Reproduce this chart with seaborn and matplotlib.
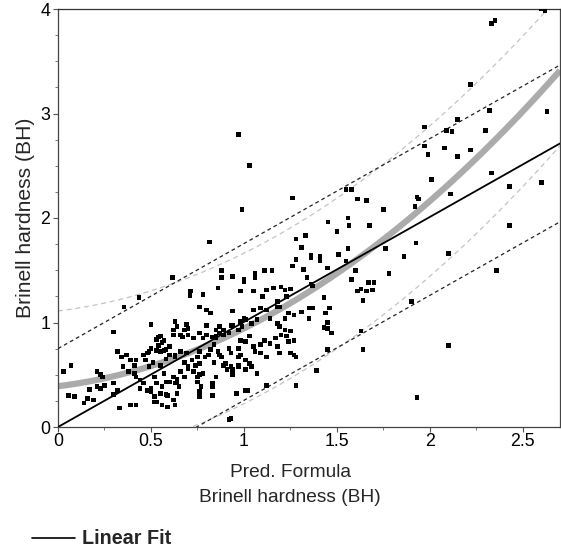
import numpy as np
import pandas as pd
import matplotlib
matplotlib.use("Agg")
import matplotlib.pyplot as plt
from matplotlib.lines import Line2D
import seaborn as sns

# Predicted (formula) vs. measured Brinell hardness, one entry per sample
pred_bh = [
    0.814, 0.615, 0.88, 0.88, 0.435, 0.355, 0.713, 0.71, 0.78, 0.86, 0.94, 1.0, 1.0,
    1.06, 1.06, 1.11, 1.15, 0.98, 1.05, 1.12, 1.10, 1.16, 0.76, 0.80, 0.82, 0.94,
    0.30, 0.50, 0.63, 0.64, 0.62, 0.55, 0.53, 0.57, 0.68, 0.70, 0.66, 0.76, 0.78,
    0.80, 0.85, 0.87, 0.89, 0.94, 0.97, 0.99, 1.01, 1.04, 1.07, 1.05, 1.09, 1.12,
    1.14, 1.18, 1.18, 1.18, 0.50, 0.49, 0.48, 0.54, 0.55, 0.58, 0.60, 0.63, 0.66,
    0.69, 0.72, 0.75, 0.76, 0.79, 0.82, 0.84, 0.86, 0.88, 0.92, 0.93, 0.97, 0.98,
    1.01, 1.03, 1.05, 1.09, 1.11, 1.14, 1.17, 1.18, 1.06, 1.09, 1.12, 0.32, 0.34,
    0.37, 0.39, 0.41, 0.42, 0.46, 0.47, 0.49, 0.35, 0.38, 0.41, 0.42, 0.44, 0.46,
    0.44, 0.48, 0.50, 0.53, 0.56, 0.58, 0.52, 0.55, 0.58, 0.53, 0.56, 0.59, 0.62,
    0.63, 0.62, 0.64, 0.65, 0.66, 0.68, 0.70, 0.73, 0.75, 0.78, 0.75, 0.77, 0.76,
    0.76, 0.83, 0.83, 0.85, 0.89, 0.91, 0.93, 0.94, 0.97, 1.01, 1.04, 1.07, 0.96,
    1.02, 0.92, 1.12, 0.98, 1.01, 1.03, 0.03, 0.07, 0.055, 0.09, 0.14, 0.16, 0.19,
    0.17, 0.21, 0.23, 0.21, 0.23, 0.24, 0.25, 0.30, 0.33, 0.39, 0.42, 0.30, 0.32,
    # 1.2 and beyond
    1.453, 1.565, 1.674, 2.43, 1.925, 1.50, 1.28, 1.33, 1.31, 1.56, 1.76, 2.10,
    1.86, 1.51, 1.26, 1.28, 1.36, 1.36, 1.41, 1.41, 1.55, 1.60, 1.32, 1.45, 1.78,
    2.36, 1.58, 1.34, 1.36, 1.37, 1.67, 1.70, 1.69, 1.61, 1.63, 1.66, 1.64, 1.90,
    1.22, 1.25, 1.23, 1.20, 1.43, 1.19, 1.22, 1.24, 1.31, 1.35, 1.37, 1.35, 1.44,
    1.46, 1.27, 1.19, 1.22, 1.25, 1.23, 1.20, 1.27, 1.24, 1.43, 1.45, 1.47, 1.45,
    1.63, 1.25, 1.27, 1.28, 1.19, 1.45, 1.64, 1.39, 1.28, 2.10, 1.93,
    2.60, 2.62, 2.33, 2.35, 2.22, 2.32, 2.63, 1.97, 1.97, 2.09, 2.12, 2.15, 2.30,
    1.99, 2.08, 2.15, 2.22, 2.33, 2.01, 2.43, 2.60, 1.26, 1.55, 1.58, 1.61, 1.66,
    1.75, 1.93, 1.94, 1.92, 2.11, 1.56, 0.97, 1.03, 0.99,
    # second pass through the dense cloud
    0.63, 0.69, 0.70, 0.62, 0.67, 0.73, 0.54, 0.56, 0.53, 0.57, 0.60, 0.80, 0.85,
    0.87, 0.93, 0.98, 1.00, 0.83, 0.85, 0.89, 0.92, 0.51, 0.55, 0.58, 0.60, 0.63,
    0.68, 0.70, 0.74, 0.76, 0.76, 0.81, 0.84, 0.87, 0.90, 0.93, 0.97, 0.94, 0.97,
    0.52, 0.57, 0.64, 0.60, 0.63, 0.55, 0.59, 0.64, 0.50, 0.52, 0.76, 0.83, 0.96,
    1.01, 0.93,
]
actual_bh = [
    1.77, 1.43, 1.50, 1.43, 1.24, 1.15, 1.30, 1.26, 1.27, 1.33, 1.44, 1.41, 1.39,
    1.47, 1.43, 1.50, 1.50, 1.30, 1.30, 1.31, 1.25, 1.33, 1.15, 1.12, 1.09, 1.11,
    0.91, 0.98, 1.01, 0.96, 0.93, 0.87, 0.84, 0.83, 0.93, 0.88, 0.88, 0.90, 0.85,
    0.88, 0.87, 0.90, 0.93, 0.97, 0.93, 0.96, 1.03, 0.99, 1.03, 1.12, 1.14, 1.12,
    1.04, 0.99, 1.15, 1.20, 0.75, 0.72, 0.71, 0.78, 0.72, 0.74, 0.69, 0.67, 0.72,
    0.71, 0.64, 0.67, 0.72, 0.67, 0.74, 0.79, 0.72, 0.67, 0.75, 0.71, 0.75, 0.83,
    0.82, 0.87, 0.77, 0.79, 0.83, 0.80, 0.85, 0.77, 0.72, 0.71, 0.67, 0.72, 0.67,
    0.69, 0.64, 0.59, 0.64, 0.69, 0.64, 0.58, 0.58, 0.53, 0.51, 0.48, 0.45, 0.42,
    0.37, 0.35, 0.34, 0.42, 0.39, 0.43, 0.29, 0.32, 0.31, 0.24, 0.21, 0.19, 0.26,
    0.21, 0.48, 0.43, 0.39, 0.53, 0.48, 0.56, 0.53, 0.48, 0.51, 0.43, 0.39, 0.34,
    0.29, 0.42, 0.39, 0.48, 0.59, 0.55, 0.58, 0.55, 0.58, 0.55, 0.58, 0.51, 0.32,
    0.35, 0.07, 0.40, 0.69, 0.64, 0.61, 0.53, 0.59, 0.30, 0.29, 0.23, 0.27, 0.26,
    0.36, 0.39, 0.37, 0.53, 0.50, 0.48, 0.40, 0.42, 0.18, 0.21, 0.21, 0.31, 0.35,
    # 1.2 and beyond
    1.96, 1.93, 1.93, 1.93, 1.76, 1.87, 1.80, 1.83, 1.72, 1.71, 1.71, 1.66,
    1.63, 1.65, 1.54, 1.60, 1.62, 1.64, 1.63, 1.59, 1.59, 1.50, 1.51, 1.52, 1.47,
    1.50, 1.41, 1.43, 1.37, 1.35, 1.38, 1.38, 1.31, 1.30, 1.32, 1.30, 1.21, 1.20,
    1.31, 1.32, 1.25, 1.34, 1.24, 1.15, 1.04, 1.09, 1.10, 1.14, 1.14, 1.04, 1.09,
    1.14, 1.07, 0.96, 0.93, 0.92, 0.87, 0.88, 0.83, 0.82, 0.95, 0.94, 0.90, 1.00,
    0.92, 0.71, 0.69, 0.67, 0.71, 0.74, 0.74, 0.54, 0.40, 0.78, 0.28,
    4.00, 3.98, 3.86, 3.89, 3.28, 3.03, 3.02, 2.87, 2.69, 2.84, 2.83, 2.94, 2.84,
    2.61, 2.67, 2.59, 2.65, 2.43, 2.37, 2.30, 2.34, 2.19, 2.27, 2.27, 2.18, 2.17,
    2.08, 2.20, 2.18, 2.11, 2.23, 2.00, 2.80, 2.50, 2.08,
    # second pass through the dense cloud
    1.01, 0.98, 0.94, 0.88, 0.86, 0.85, 0.86, 0.81, 0.73, 0.73, 0.77, 0.97, 0.93,
    0.96, 0.97, 1.01, 1.04, 0.86, 0.85, 0.88, 0.90, 0.62, 0.59, 0.65, 0.69, 0.69,
    0.62, 0.58, 0.59, 0.61, 0.50, 0.69, 0.62, 0.69, 0.61, 0.58, 0.59, 0.50, 0.67,
    0.48, 0.51, 0.46, 0.43, 0.42, 0.32, 0.30, 0.32, 0.37, 0.24, 0.33, 0.30, 0.32,
    0.35, 0.08,
]

# Fitted models: linear (intercept, slope) and quadratic (a, b, c)
linear_fit = [0.0, 1.005]
quad_fit = [0.39, 0.22, 0.333]
# Half-widths of the individual prediction bands
linear_pi_half = 0.75
quad_pi_half = 0.72

x_ticks = [0, 0.5, 1, 1.5, 2, 2.5]
x_tick_labels = ["0", "0.5", "1", "1.5", "2", "2.5"]
y_ticks = [0, 1, 2, 3, 4]
y_tick_labels = ["0", "1", "2", "3", "4"]

df = pd.DataFrame({"pred": pred_bh, "actual": actual_bh})

sns.set_style("ticks")
plt.rcParams["font.family"] = ["Liberation Sans", "DejaVu Sans"]

W, H = 561, 548
fig = plt.figure(figsize=(W / 100, H / 100), dpi=100)
ax = fig.add_axes([58 / W, 121 / H, 502 / W, 418 / H])

xs = np.linspace(0, 2.7, 300)
lin = linear_fit[0] + linear_fit[1] * xs
quad = quad_fit[0] + quad_fit[1] * xs + quad_fit[2] * xs ** 2

curves = pd.DataFrame({"x": xs, "lin": lin, "quad": quad})

# Quadratic fit band (light grey dashes) and curve (thick grey)
ax.plot(xs, quad + quad_pi_half, color="#c4c4c4", lw=0.9, ls=(0, (4, 3)), zorder=1)
ax.plot(xs, quad - quad_pi_half, color="#c4c4c4", lw=0.9, ls=(0, (4, 3)), zorder=1)
sns.lineplot(data=curves, x="x", y="quad", ax=ax, color="#ababab", lw=4.5,
             zorder=2, solid_capstyle="butt")

# Linear fit band (dark short dashes) and line
ax.plot(xs, lin + linear_pi_half, color="#222222", lw=0.9, ls=(0, (3, 2.5)), zorder=3)
ax.plot(xs, lin - linear_pi_half, color="#222222", lw=0.9, ls=(0, (3, 2.5)), zorder=3)
sns.lineplot(data=curves, x="x", y="lin", ax=ax, color="black", lw=1.3, zorder=4)

sns.scatterplot(data=df, x="pred", y="actual", ax=ax, marker="s", s=11,
                color="black", edgecolor="none", linewidth=0, zorder=5)

ax.set_xlim(0, 2.7)
ax.set_ylim(0, 4)
ax.set_xticks(x_ticks)
ax.set_xticklabels(x_tick_labels)
ax.set_yticks(y_ticks)
ax.set_yticklabels(y_tick_labels)
ax.set_xticks(np.arange(0.25, 2.7, 0.5), minor=True)
ax.set_yticks(np.arange(0.25, 4.0, 0.25), minor=True)
ax.tick_params(which="major", direction="out", length=3.5, width=0.8,
               labelsize=12.8, colors="#555555", labelcolor="black")
ax.tick_params(axis="x", which="major", pad=1)
ax.tick_params(axis="y", which="major", pad=2)
ax.tick_params(which="minor", direction="out", length=2.2, width=0.7, colors="#777777")

for side in ["left", "bottom", "top", "right"]:
    ax.spines[side].set_linewidth(0.9)
    ax.spines[side].set_color("#444444")
ax.spines["top"].set_color("#333333")

ax.set_xlabel("Pred. Formula\nBrinell hardness (BH)", fontsize=13.8,
              linespacing=1.6)
ax.xaxis.set_label_coords((290 - 58) / 502, -(464 - 427) / 418)
ax.set_ylabel("Brinell hardness (BH)", fontsize=15.2)
ax.yaxis.set_label_coords(-(58 - 35) / 502, 0.5)

# Legend entry below the plot
fig.add_artist(Line2D([32 / W, 75 / W], [1 - 538 / H] * 2,
                      color="black", lw=1.2))
fig.text(82 / W, 1 - 538 / H, "Linear Fit", fontsize=14.2,
         fontweight="bold", va="center", ha="left")

fig.savefig("out.png", dpi=100)
